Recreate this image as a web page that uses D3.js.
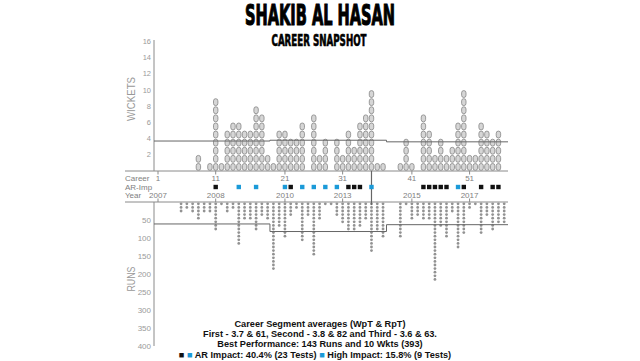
<!DOCTYPE html>
<html><head><meta charset="utf-8">
<script src="https://cdn.jsdelivr.net/npm/d3@7"></script>
<style>body{margin:0;background:#fff}svg{display:block}text{font-family:"Liberation Sans",Arial,sans-serif}</style>
</head><body><svg id="c" width="640" height="361"></svg>
<script>
// ---- data (one entry per career slot) ----
const wickets = [0,0,0,0,0,0,0,2,0,1, 9,1,5,6,6,5,5,8,7,2, 1,5,5,4,4,6,0,7,2,4, 0,4,2,5,3,6,7,10,1,1, 0,0,1,4,1,0,7,5,2,4, 2,3,6,10,2,2,6,5,4,5, 0];
const runs    = [0,0,0,0,30,20,30,50,30,30, 80,10,30,20,120,50,50,80,40,50, 190,70,100,40,20,110,40,150,50,10, 10,40,60,80,80,70,50,140,80,100, 0,0,100,10,50,40,50,50,220,70, 100,30,130,90,20,10,90,40,80,60, 60];
const arImpactSlots   = [10,23,33,34,35,46,47,48,49,50,53,56,58,59];
const highImpactSlots = [14,17,22,25,27,29,31,37,52];
const careerTickSlots  = [0,10,22,32,44,54];
const careerTickLabels = ["1","11","21","31","41","51"];
const yearTickLabels   = ["2007","2008","2010","2013","2015","2017"];
const wicketTicks = [2,4,6,8,10,12,14,16];
const runTicks = [50,100,150,200,250,300,350,400];
const segWpT = [3.7,3.8,3.6];
const segRpT = [61,82,63];
const segEdges = [-0.7,19.4,39.6,60.7];
const bestSlot = 37;
const footer = [
  "Career Segment averages (WpT & RpT)",
  "First - 3.7 & 61, Second - 3.8 & 82 and Third - 3.6 & 63.",
  "Best Performance: 143 Runs and 10 Wkts (393)"
];

// ---- drawing ----
const svg = d3.select("#c");
const x = d3.scaleLinear().domain([0,60]).range([158,504.2]);
const yW = d3.scaleLinear().domain([0,16]).range([171,41.4]);
const yR = d3.scaleLinear().domain([0,400]).range([202,346]);
const axisCol = "#8a8a8a", blue = "#1b9ad8";

// title
svg.append("text").attr("x",320).attr("y",25).attr("text-anchor","middle")
  .attr("font-size",28).attr("font-weight","bold").attr("fill","#000")
  .attr("stroke","#000").attr("stroke-width",1.1)
  .attr("textLength",150).attr("lengthAdjust","spacingAndGlyphs")
  .style("font-family","'Liberation Sans Narrow','DejaVu Sans Condensed',Arial")
  .text("SHAKIB AL HASAN");
svg.append("text").attr("x",319).attr("y",46).attr("text-anchor","middle")
  .attr("font-size",15).attr("font-weight","bold").attr("fill","#000")
  .attr("stroke","#000").attr("stroke-width",0.6)
  .attr("textLength",95).attr("lengthAdjust","spacingAndGlyphs")
  .style("font-family","'Liberation Sans Narrow','DejaVu Sans Condensed',Arial")
  .text("CAREER SNAPSHOT");

// axes lines
svg.append("line").attr("x1",125).attr("x2",508).attr("y1",yW(0)).attr("y2",yW(0)).attr("stroke",axisCol);
svg.append("line").attr("x1",154).attr("x2",154).attr("y1",40).attr("y2",yW(0)).attr("stroke",axisCol);
svg.append("line").attr("x1",125).attr("x2",508).attr("y1",yR(0)).attr("y2",yR(0)).attr("stroke",axisCol);
svg.append("line").attr("x1",154).attr("x2",154).attr("y1",yR(0)).attr("y2",346).attr("stroke",axisCol);

// y tick labels
svg.selectAll(".wt").data(wicketTicks).join("text").attr("x",151).attr("y",d=>yW(d)+2.5)
  .attr("text-anchor","end").attr("font-size",7.5).attr("fill","#9a9a9a").text(d=>d);
svg.selectAll(".rt").data(runTicks).join("text").attr("x",151).attr("y",d=>yR(d)+2.8)
  .attr("text-anchor","end").attr("font-size",8).attr("fill","#9a9a9a").text(d=>d);

// axis titles
svg.append("text").attr("transform","translate(135,99) rotate(-90)").attr("text-anchor","middle")
  .attr("font-size",11).attr("fill","#999").attr("textLength",44).attr("lengthAdjust","spacingAndGlyphs").text("WICKETS");
svg.append("text").attr("transform","translate(134.5,279) rotate(-90)").attr("text-anchor","middle")
  .attr("font-size",11).attr("fill","#999").attr("textLength",25).attr("lengthAdjust","spacingAndGlyphs").text("RUNS");

// wickets: stacked capsules
const wData = [];
wickets.forEach((w,s)=>{ for(let i=0;i<w;i++) wData.push({s,i}); });
svg.append("g").selectAll("rect").data(wData).join("rect")
  .attr("x",d=>x(d.s)-2.2).attr("y",d=>yW(d.i+1)+0.6)
  .attr("width",4.4).attr("height",yW(0)-yW(1)-1.2).attr("rx",2.2)
  .attr("fill","#d6d6d6").attr("stroke","#858585").attr("stroke-width",0.8);

// runs: stacked dots (10 runs each)
const rData = [];
runs.forEach((r,s)=>{ const n=Math.round(r/10); for(let i=0;i<n;i++) rData.push({s,i}); });
svg.append("g").selectAll("circle").data(rData).join("circle")
  .attr("cx",d=>x(d.s)).attr("cy",d=>yR(d.i*10+5)).attr("r",1.4).attr("fill","#929292");

// segment average step lines
function stepPts(vals, yS){
  const p=[];
  vals.forEach((v,i)=>{ p.push([x(segEdges[i]),yS(v)]); p.push([x(segEdges[i+1]),yS(v)]); });
  p[0][0]=154; p[p.length-1][0]=508;
  return p;
}
svg.append("path").attr("d",d3.line()(stepPts(segWpT,yW))).attr("fill","none").attr("stroke","#666").attr("stroke-width",1);
svg.append("path").attr("d",d3.line()(stepPts(segRpT,yR))).attr("fill","none").attr("stroke","#666").attr("stroke-width",1);

// best performance marker
svg.append("line").attr("x1",x(bestSlot)).attr("x2",x(bestSlot)).attr("y1",yW(0)).attr("y2",yR(0)+3)
  .attr("stroke","#666").attr("stroke-width",1.2);

// row labels
[["Career",180.5],["AR-Imp",189.5],["Year",198]].forEach(([t,y])=>{
  svg.append("text").attr("x",125).attr("y",y).attr("font-size",8).attr("fill","#808080").text(t);
});
// career & year ticks
careerTickSlots.forEach((s,i)=>{
  svg.append("line").attr("x1",x(s)).attr("x2",x(s)).attr("y1",yW(0)).attr("y2",yW(0)+3.5).attr("stroke",axisCol);
  svg.append("text").attr("x",x(s)).attr("y",180.5).attr("text-anchor","middle").attr("font-size",8).attr("fill","#808080").text(careerTickLabels[i]);
  svg.append("line").attr("x1",x(s)).attr("x2",x(s)).attr("y1",yR(0)-3.5).attr("y2",yR(0)).attr("stroke",axisCol);
  svg.append("text").attr("x",x(s)).attr("y",197.5).attr("text-anchor","middle").attr("font-size",8).attr("fill","#808080").text(yearTickLabels[i]);
});
// impact squares
svg.selectAll(".ar").data(arImpactSlots).join("rect").attr("x",d=>x(d)-2.2).attr("y",184.8).attr("width",4.4).attr("height",4.4).attr("fill","#111");
svg.selectAll(".hi").data(highImpactSlots).join("rect").attr("x",d=>x(d)-2.2).attr("y",184.8).attr("width",4.4).attr("height",4.4).attr("fill",blue);

// footer
footer.forEach((t,i)=>{
  svg.append("text").attr("x",320).attr("y",326.5+i*10.3).attr("text-anchor","middle")
    .attr("font-size",9.2).attr("font-weight","bold").attr("fill","#111").text(t);
});
const leg = svg.append("text").attr("x",315).attr("y",357.5).attr("text-anchor","middle")
  .attr("font-size",9.2).attr("font-weight","bold").attr("fill","#111");
leg.append("tspan").attr("fill","#111").text("■ ");
leg.append("tspan").attr("fill",blue).text("■");
leg.append("tspan").text(" AR Impact: 40.4% (23 Tests)  ");
leg.append("tspan").attr("fill",blue).text("■");
leg.append("tspan").text(" High Impact: 15.8% (9 Tests)");
</script></body></html>
